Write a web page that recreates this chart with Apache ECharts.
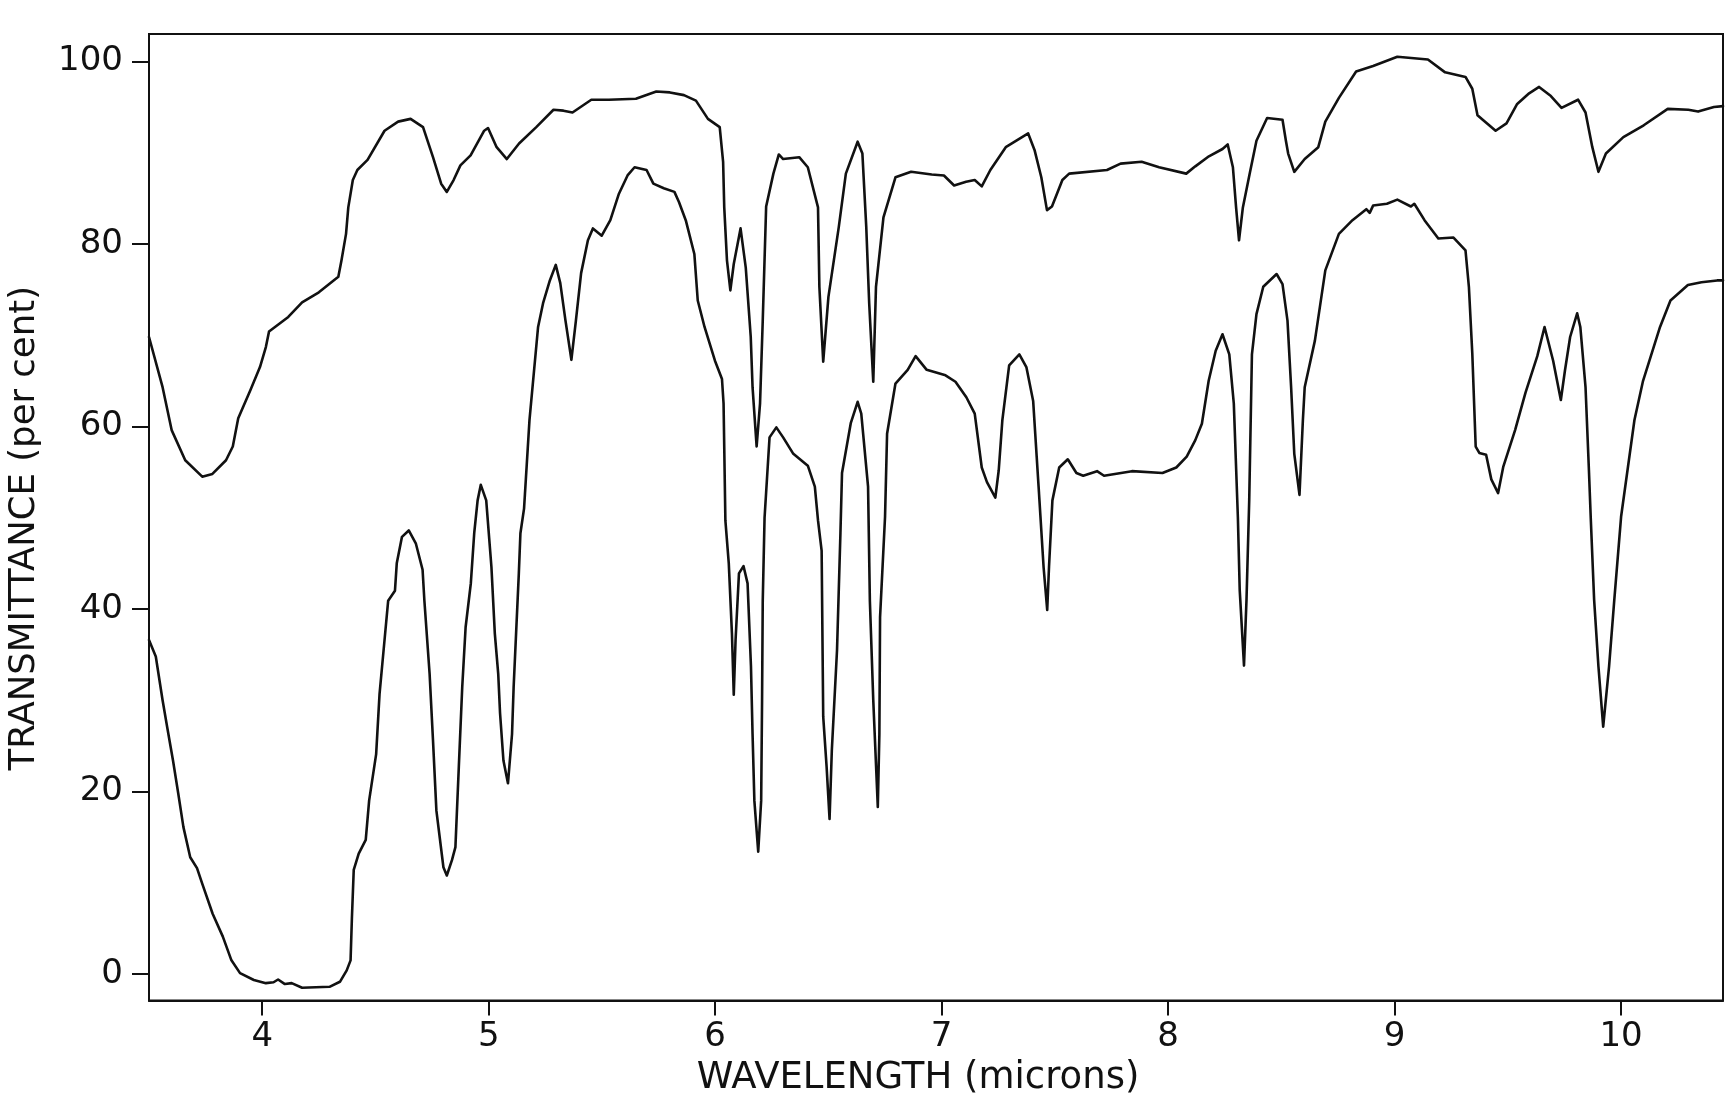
<!DOCTYPE html>
<html>
<head>
<meta charset="utf-8">
<title>Infrared transmittance spectra</title>
<script src="https://cdn.jsdelivr.net/npm/echarts@6/dist/echarts.min.js"></script>
<style>
  html, body { margin: 0; padding: 0; background: #ffffff; }
  #chart { width: 1732px; height: 1104px; }
</style>
</head>
<body>
<div id="chart"></div>
<script>
// Upper trace: wavelength (microns) and transmittance (per cent)
const upperWavelength = [
  3.50, 3.56, 3.60, 3.66, 3.735, 3.78, 3.84, 3.87, 3.894, 3.948, 3.99, 4.016, 4.03,
  4.115, 4.176, 4.25, 4.336, 4.35, 4.37, 4.38, 4.40, 4.42, 4.465, 4.54, 4.60, 4.655,
  4.71, 4.754, 4.79, 4.815, 4.845, 4.875, 4.92, 4.98, 4.997, 5.035, 5.08, 5.134, 5.21,
  5.286, 5.33, 5.37, 5.453, 5.53, 5.65, 5.74, 5.80, 5.862, 5.915, 5.968, 6.02, 6.035,
  6.04, 6.052, 6.067, 6.082, 6.112, 6.135, 6.157, 6.165, 6.183, 6.198, 6.21, 6.225,
  6.257, 6.281, 6.30, 6.371, 6.409, 6.454, 6.46, 6.477, 6.50, 6.546, 6.577, 6.629,
  6.65, 6.667, 6.68, 6.698, 6.71, 6.743, 6.796, 6.865, 6.956, 7.01, 7.055, 7.108,
  7.146, 7.177, 7.215, 7.283, 7.382, 7.41, 7.44, 7.465, 7.487, 7.533, 7.563, 7.73,
  7.79, 7.883, 7.96, 8.08, 8.12, 8.18, 8.24, 8.263, 8.286, 8.30, 8.313, 8.33, 8.36,
  8.39, 8.437, 8.505, 8.52, 8.53, 8.557, 8.603, 8.663, 8.694, 8.754, 8.83, 8.905,
  9.012, 9.147, 9.223, 9.313, 9.343, 9.366, 9.389, 9.446, 9.494, 9.54, 9.594, 9.638,
  9.69, 9.737, 9.81, 9.843, 9.873, 9.90, 9.933, 10.01, 10.10, 10.206, 10.297, 10.34,
  10.41, 10.45
];
const upperTransmittance = [
  69.8, 64.3, 59.6, 56.3, 54.5, 54.8, 56.3, 57.8, 60.9, 64.0, 66.5, 68.7, 70.4,
  72.0, 73.6, 74.7, 76.4, 78.2, 81.1, 84.0, 87.0, 88.1, 89.2, 92.4, 93.4, 93.7,
  92.8, 89.5, 86.6, 85.7, 87.0, 88.6, 89.7, 92.4, 92.7, 90.6, 89.3, 91.0, 92.8,
  94.7, 94.6, 94.4, 95.8, 95.8, 95.9, 96.7, 96.6, 96.3, 95.7, 93.7, 92.8, 89.0,
  84.0, 78.2, 74.9, 77.8, 81.7, 77.4, 69.8, 64.3, 57.8, 62.5, 71.6, 84.1,
  87.7, 89.8, 89.3, 89.5, 88.4, 84.0, 75.3, 67.1, 74.2, 81.9, 87.7, 91.2,
  89.9, 81.9, 73.5, 64.9, 75.3, 82.9, 87.3, 87.9, 87.6, 87.5, 86.4, 86.8,
  87.0, 86.3, 88.1, 90.6, 92.1, 90.3, 87.3, 83.7, 84.1, 87.0, 87.7, 88.1,
  88.8, 89.0, 88.4, 87.7, 88.5, 89.6, 90.4, 90.9, 88.4, 84.0, 80.4, 84.0, 87.7,
  91.3, 93.8, 93.6, 91.3, 89.9, 87.9, 89.3, 90.6, 93.4, 96.0, 98.9, 99.5,
  100.5, 100.2, 98.8, 98.3, 97.0, 94.1, 93.6, 92.4, 93.2, 95.3, 96.5, 97.2,
  96.2, 94.9, 95.8, 94.4, 90.6, 87.9, 89.9, 91.7, 93.0, 94.8, 94.7, 94.5,
  95.0, 95.1
];

// Lower trace: wavelength (microns) and transmittance (per cent)
const lowerWavelength = [
  3.50, 3.53, 3.56, 3.58, 3.606, 3.629, 3.652, 3.682, 3.712, 3.735, 3.781, 3.826,
  3.864, 3.902, 3.963, 4.016, 4.05, 4.07, 4.10, 4.13, 4.176, 4.297, 4.343, 4.373,
  4.39, 4.396, 4.404, 4.426, 4.457, 4.472, 4.503, 4.518, 4.54, 4.556, 4.586, 4.594,
  4.617, 4.647, 4.678, 4.708, 4.716, 4.739, 4.754, 4.769, 4.80, 4.815, 4.838, 4.853,
  4.868, 4.883, 4.898, 4.921, 4.936, 4.951, 4.965, 4.989, 5.012, 5.027, 5.042, 5.05,
  5.065, 5.085, 5.103, 5.11, 5.133, 5.14, 5.156, 5.18, 5.218, 5.24, 5.27, 5.296,
  5.316, 5.339, 5.365, 5.385, 5.408, 5.438, 5.46, 5.499, 5.537, 5.575, 5.613, 5.644,
  5.697, 5.727, 5.773, 5.82, 5.84, 5.87, 5.908, 5.923, 5.953, 5.999, 6.03, 6.037,
  6.045, 6.06, 6.074, 6.082, 6.09, 6.105, 6.125, 6.143, 6.158, 6.165, 6.173, 6.19,
  6.203, 6.207, 6.21, 6.218, 6.24, 6.27, 6.30, 6.345, 6.409, 6.44, 6.454, 6.47,
  6.477, 6.492, 6.505, 6.515, 6.538, 6.553, 6.56, 6.599, 6.629, 6.645, 6.675, 6.683,
  6.698, 6.718, 6.725, 6.728, 6.75, 6.759, 6.796, 6.85, 6.885, 6.934, 7.017, 7.061,
  7.109, 7.146, 7.177, 7.20, 7.237, 7.252, 7.268, 7.298, 7.343, 7.374, 7.404, 7.428,
  7.45, 7.466, 7.474, 7.489, 7.519, 7.557, 7.595, 7.625, 7.686, 7.717, 7.84, 7.975,
  8.036, 8.082, 8.12, 8.149, 8.179, 8.21, 8.24, 8.27, 8.29, 8.308, 8.316, 8.335,
  8.346, 8.358, 8.37, 8.39, 8.42, 8.479, 8.505, 8.527, 8.543, 8.557, 8.58, 8.595,
  8.603, 8.648, 8.694, 8.754, 8.814, 8.875, 8.89, 8.905, 8.966, 9.012, 9.072, 9.087,
  9.132, 9.193, 9.26, 9.313, 9.328, 9.343, 9.358, 9.374, 9.404, 9.427, 9.457, 9.48,
  9.532, 9.578, 9.63, 9.662, 9.70, 9.734, 9.752, 9.775, 9.806, 9.82, 9.843, 9.858,
  9.866, 9.881, 9.90, 9.921, 9.947, 9.97, 10.0, 10.059, 10.097, 10.172, 10.218,
  10.295, 10.355, 10.424, 10.45
];
const lowerTransmittance = [
  36.6, 34.8, 30.0, 27.1, 23.4, 19.8, 16.1, 12.8, 11.6, 9.9, 6.6, 4.1,
  1.5, 0.1, -0.65, -1.0, -0.9, -0.6, -1.1, -1.0, -1.5, -1.4, -0.85, 0.4,
  1.5, 6.2, 11.4, 13.2, 14.7, 19.0, 24.1, 30.7, 36.6, 40.9, 42.0, 45.0,
  47.9, 48.6, 47.2, 44.3, 40.9, 32.9, 25.6, 17.9, 11.7, 10.8, 12.5, 13.9,
  22.7, 31.4, 38.0, 42.8, 48.3, 51.9, 53.6, 51.9, 44.6, 37.3, 32.9, 28.6,
  23.4, 20.9, 26.3, 31.4, 43.9, 48.3, 51.0, 60.7, 70.9, 73.5, 76.0, 77.7,
  75.7, 71.6, 67.3, 71.6, 76.8, 80.4, 81.7, 80.9, 82.6, 85.5, 87.5, 88.4,
  88.1, 86.6, 86.1, 85.7, 84.6, 82.6, 78.9, 73.8, 70.9, 67.2, 65.2, 62.5,
  49.7, 45.0, 37.3, 30.6, 36.6, 43.9, 44.7, 42.8, 33.7, 26.3, 19.0, 13.4,
  19.0, 30.0, 40.9, 50.0, 58.8, 59.9, 58.8, 57.0, 55.7, 53.4, 49.7, 46.4,
  28.2, 22.7, 17.0, 24.5, 35.5, 48.3, 54.9, 60.4, 62.7, 61.4, 53.4, 40.9,
  30.0, 18.3, 26.3, 39.1, 50.1, 59.2, 64.7, 66.2, 67.7, 66.2, 65.6, 64.9,
  63.2, 61.4, 55.5, 53.9, 52.2, 55.2, 60.7, 66.7, 67.9, 66.5, 62.8, 53.4,
  44.6, 39.9, 44.6, 51.9, 55.5, 56.4, 54.9, 54.6, 55.1, 54.6, 55.1, 54.9,
  55.5, 56.7, 58.5, 60.3, 65.0, 68.3, 70.1, 67.9, 62.5, 50.0, 42.1, 33.8,
  41.0, 51.9, 67.9, 72.3, 75.3, 76.7, 75.6, 71.6, 64.3, 57.0, 52.5, 60.7,
  64.3, 69.4, 77.1, 81.1, 82.6, 83.8, 83.4, 84.2, 84.4, 84.85, 84.1, 84.4,
  82.6, 80.6, 80.7, 79.3, 75.3, 68.0, 57.8, 57.1, 56.9, 54.2, 52.7, 55.6,
  59.6, 63.7, 67.7, 70.9, 67.2, 62.9, 66.1, 69.8, 72.4, 70.9, 64.3, 55.2,
  50.0, 41.0, 33.7, 27.1, 33.7, 41.0, 50.1, 60.7, 65.0, 70.9, 73.8,
  75.5, 75.8, 76.0, 76.0
];

// Tick positions for both axes
const wavelengthTicks = [4, 5, 6, 7, 8, 9, 10];
const transmittanceTicks = [0, 20, 40, 60, 80, 100];

function pairs(xs, ys) {
  return xs.map((x, i) => [x, ys[i]]);
}

const ink = '#111111';
const labelFont = '"DejaVu Sans", "Liberation Sans", sans-serif';

const chart = echarts.init(document.getElementById('chart'), null, { renderer: 'canvas' });

chart.setOption({
  backgroundColor: '#ffffff',
  animation: false,
  grid: {
    left: 149,
    right: 9,
    top: 34,
    bottom: 103.5,
    show: true,
    borderColor: ink,
    borderWidth: 2,
    backgroundColor: 'transparent',
    containLabel: false,
    outerBoundsMode: 'none'
  },
  xAxis: {
    type: 'value',
    min: 3.5,
    max: 10.45,
    name: 'WAVELENGTH (microns)',
    nameLocation: 'middle',
    nameGap: 50,
    nameTextStyle: { fontFamily: labelFont, fontSize: 37, color: ink, padding: [0, 36, 0, 0] },
    axisLine: { show: true, onZero: false, lineStyle: { color: ink, width: 2 } },
    axisTick: { show: true, inside: false, length: 15, customValues: wavelengthTicks, lineStyle: { color: ink, width: 2 } },
    axisLabel: { customValues: wavelengthTicks, margin: 20, fontFamily: labelFont, fontSize: 34, color: ink },
    splitLine: { show: false }
  },
  yAxis: {
    type: 'value',
    min: -2.9,
    max: 103,
    name: 'TRANSMITTANCE (per cent)',
    nameLocation: 'middle',
    nameRotate: 90,
    nameGap: 106,
    nameTextStyle: { fontFamily: labelFont, fontSize: 35.5, color: ink, padding: [0, 22, 0, 0] },
    axisLine: { show: true, onZero: false, lineStyle: { color: ink, width: 2 } },
    axisTick: { show: true, inside: false, length: 17, customValues: transmittanceTicks, lineStyle: { color: ink, width: 2 } },
    axisLabel: { customValues: transmittanceTicks, margin: 26, fontFamily: labelFont, fontSize: 34, color: ink },
    splitLine: { show: false }
  },
  series: [
    {
      name: 'upper',
      type: 'line',
      data: pairs(upperWavelength, upperTransmittance),
      showSymbol: false,
      smooth: false,
      clip: true,
      lineStyle: { color: ink, width: 2.6, join: 'round', cap: 'round' }
    },
    {
      name: 'lower',
      type: 'line',
      data: pairs(lowerWavelength, lowerTransmittance),
      showSymbol: false,
      smooth: false,
      clip: true,
      lineStyle: { color: ink, width: 2.6, join: 'round', cap: 'round' }
    }
  ]
});
</script>
</body>
</html>
